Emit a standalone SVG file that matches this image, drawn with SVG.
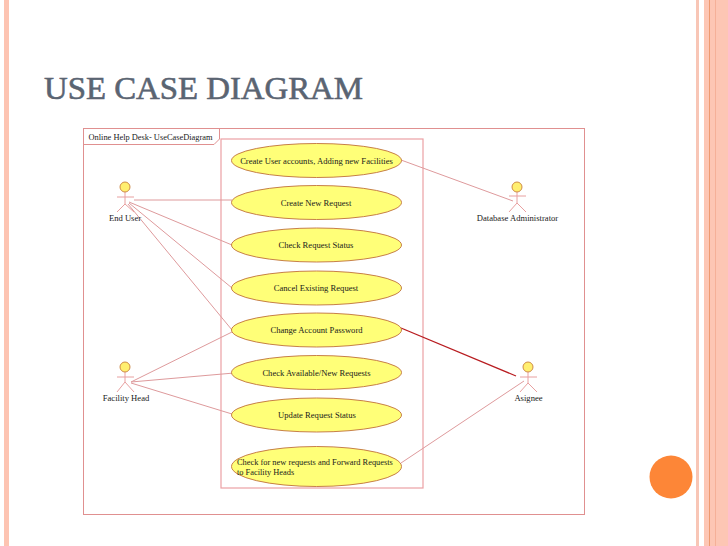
<svg xmlns="http://www.w3.org/2000/svg" width="728" height="546" viewBox="0 0 728 546">
<style>
text{font-family:"Liberation Serif",serif;font-size:8.6px;fill:#1a1a1a}
.uc{fill:#ffff78;stroke:#c0703c;stroke-width:.9}
.head{fill:#ffef70;stroke:#c8803c;stroke-width:.9}
.stick{fill:none;stroke:#e8a0a0;stroke-width:1}
.conn{fill:none;stroke:#de9a9c;stroke-width:1}
.box{fill:none;stroke:#e09090;stroke-width:1}
.mid{text-anchor:middle}
</style>
<rect width="728" height="546" fill="#fff"/>
<g id="slide-bands">
<rect x="4" y="0" width="5" height="546" fill="#fdc4b2"/>
<rect x="696" y="0" width="3" height="546" fill="#f8c6b6"/>
<rect x="704" y="0" width="24" height="546" fill="#fdc6b4"/>
<rect x="709" y="0" width="1" height="546" fill="#ee9a70"/>
<rect x="715" y="0" width="1" height="546" fill="#f5b098"/>
<circle cx="671" cy="477" r="21.500" fill="#fd8637"/>
</g>
<text id="title" x="44" y="99" textLength="319" lengthAdjust="spacingAndGlyphs" style="font-size:32.500px;fill:#5a6472;stroke:#5a6472;stroke-width:.6;font-family:'Liberation Serif',serif">USE CASE DIAGRAM</text>
<g id="frame">
<rect class="box" x="83.500" y="128.500" width="501" height="386"/>
<path class="box" d="M83.500 144.500H214L219.500 139V128.500"/>
<text x="88.500" y="140" style="font-size:8.400px">Online Help Desk- UseCaseDiagram</text>
</g>
<rect id="system-boundary" x="221" y="139" width="202" height="349" fill="none" stroke="#eca0a4" stroke-width="1.200"/>
<g id="connectors">
<path class="conn" d="M401 160L513 201"/>
<path class="conn" d="M134 200H232"/>
<path class="conn" d="M129 202L232 245"/>
<path class="conn" d="M129 203L232 288"/>
<path class="conn" d="M128 204L232 330"/>
<path class="conn" d="M131 382L232 332"/>
<path class="conn" d="M131 382L234 373"/>
<path class="conn" d="M131 383L232 414"/>
<path d="M401 328L516 376" fill="none" stroke="#b81c20" stroke-width="1.300"/>
<path class="conn" d="M401 463L524 381"/>
</g>
<g id="uc1"><ellipse class="uc" cx="316.500" cy="160.500" rx="85" ry="17"/><text class="mid" x="316.500" y="163.500">Create User accounts, Adding new Facilities</text></g>
<g id="uc2"><ellipse class="uc" cx="316.500" cy="202.500" rx="85" ry="17"/><text class="mid" x="316" y="205.500">Create New Request</text></g>
<g id="uc3"><ellipse class="uc" cx="316.500" cy="245" rx="85" ry="17"/><text class="mid" x="316" y="248">Check Request Status</text></g>
<g id="uc4"><ellipse class="uc" cx="316.500" cy="288" rx="85" ry="17"/><text class="mid" x="316" y="291">Cancel Existing Request</text></g>
<g id="uc5"><ellipse class="uc" cx="316.500" cy="330" rx="85" ry="17"/><text class="mid" x="316.500" y="333">Change Account Password</text></g>
<g id="uc6"><ellipse class="uc" cx="316.500" cy="372.500" rx="85" ry="17"/><text class="mid" x="316.500" y="375.500">Check Available/New Requests</text></g>
<g id="uc7"><ellipse class="uc" cx="316.500" cy="415" rx="85" ry="17"/><text class="mid" x="317" y="418">Update Request Status</text></g>
<g id="uc8"><ellipse class="uc" cx="316.500" cy="466.500" rx="85" ry="20"/><text x="237" y="465" style="font-size:8.400px">Check for new requests and Forward Requests</text><text x="237" y="475" style="font-size:8.400px">to Facility Heads</text></g>
<g id="end-user"><path class="stick" d="M125 192V204M117 197H134M125 204L117 212M125 204L134 212"/><circle class="head" cx="125" cy="187" r="5"/><text class="mid" x="125" y="221">End User</text></g>
<g id="facility-head"><path class="stick" d="M125 372V382M117 377H134M125 382L117 392M125 382L134 392"/><circle class="head" cx="125" cy="367" r="5"/><text class="mid" x="126" y="401">Facility Head</text></g>
<g id="database-administrator"><path class="stick" d="M517 192V203M509 196H526M517 203L509 212M517 203L526 212"/><circle class="head" cx="517" cy="187" r="5"/><text class="mid" x="517.500" y="221">Database Administrator</text></g>
<g id="asignee"><path class="stick" d="M528 372V383M520 377H537M528 383L520 392M528 383L537 392"/><circle class="head" cx="528" cy="367" r="5"/><text class="mid" x="528.500" y="401">Asignee</text></g>
</svg>
